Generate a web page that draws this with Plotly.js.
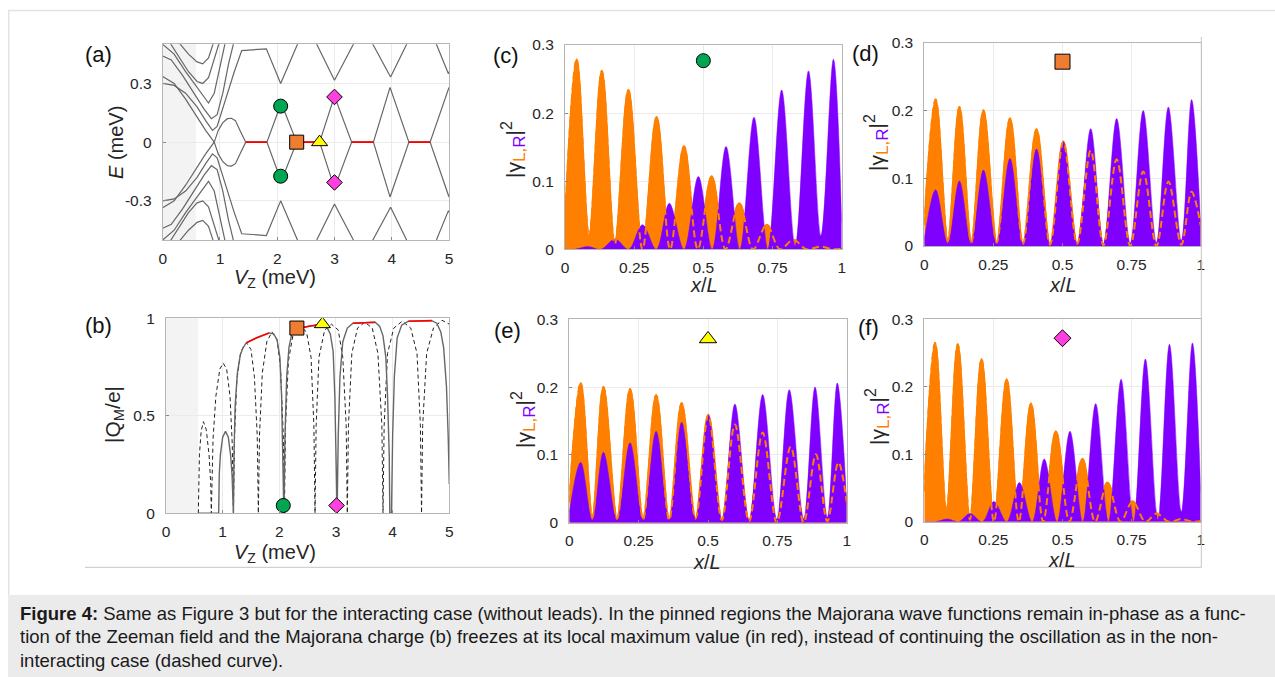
<!DOCTYPE html>
<html><head><meta charset="utf-8">
<script src="https://cdn.plot.ly/plotly-3.0.1.min.js"></script>
<style>html,body{margin:0;padding:0;background:#fff;}#chart{width:1275px;height:677px;}</style>
</head><body><div id="chart"></div>
<script>
// ================= DATA =================
// Panel (a): energy spectrum E (meV) vs V_Z (meV); each curve is a list of [V_Z, E] points
const aMajUp = [[0.9,0],[0.97,0.06],[1.05,0.1],[1.13,0.12],[1.2,0.122],[1.27,0.11],[1.35,0.06],[1.45,0],[1.82,0],[2.07,0.2],[2.34,0],[2.74,0],[3.0,0.235],[3.3,0],[3.68,0],[3.97,0.28],[4.3,0],[4.67,0],[5.0,0.28]];
const aMajLo = [[0.9,0],[0.97,-0.06],[1.05,-0.1],[1.13,-0.12],[1.2,-0.122],[1.27,-0.11],[1.35,-0.06],[1.45,0],[1.82,0],[2.07,-0.2],[2.34,0],[2.74,0],[3.0,-0.235],[3.3,0],[3.68,0],[3.97,-0.28],[4.3,0],[4.67,0],[5.0,-0.28]];
const aUp1 = [[0,0.335],[0.2,0.3],[0.4,0.22],[0.6,0.13],[0.75,0.06],[0.9,0]];
const aLo1 = [[0,-0.335],[0.2,-0.3],[0.4,-0.22],[0.6,-0.13],[0.75,-0.06],[0.9,0]];
const aUp2 = [[0,0.3],[0.2,0.29],[0.4,0.25],[0.6,0.18],[0.75,0.11],[0.87,0.06],[0.95,0.08],[1.1,0.22],[1.25,0.36],[1.38,0.468],[1.81,0.477],[2.06,0.3],[2.37,0.5],[2.5,0.6],[2.69,0.5],[3.0,0.316],[3.33,0.5],[3.5,0.6],[3.67,0.5],[3.98,0.333],[4.26,0.5],[4.5,0.65],[4.78,0.5],[4.99,0.35],[5.0,0.36]];
const aLo2 = [[0,-0.3],[0.2,-0.29],[0.4,-0.25],[0.6,-0.18],[0.75,-0.11],[0.87,-0.06],[0.95,-0.08],[1.1,-0.22],[1.25,-0.36],[1.38,-0.468],[1.81,-0.477],[2.06,-0.3],[2.37,-0.5],[2.5,-0.6],[2.69,-0.5],[3.0,-0.316],[3.33,-0.5],[3.5,-0.6],[3.67,-0.5],[3.98,-0.333],[4.26,-0.5],[4.5,-0.65],[4.78,-0.5],[4.99,-0.35],[5.0,-0.36]];
const aUp3 = [[0,0.44],[0.15,0.42],[0.35,0.34],[0.55,0.25],[0.72,0.17],[0.85,0.12],[0.95,0.14],[1.05,0.25],[1.15,0.4],[1.25,0.52]];
const aLo3 = [[0,-0.44],[0.15,-0.42],[0.35,-0.34],[0.55,-0.25],[0.72,-0.17],[0.85,-0.12],[0.95,-0.14],[1.05,-0.25],[1.15,-0.4],[1.25,-0.52]];
const aUp4 = [[0,0.5],[0.2,0.45],[0.4,0.36],[0.55,0.3],[0.7,0.24],[0.8,0.2],[0.9,0.25],[1.0,0.38],[1.1,0.52]];
const aLo4 = [[0,-0.5],[0.2,-0.45],[0.4,-0.36],[0.55,-0.3],[0.7,-0.24],[0.8,-0.2],[0.9,-0.25],[1.0,-0.38],[1.1,-0.52]];
const aUp5 = [[0.1,0.52],[0.3,0.43],[0.45,0.36],[0.6,0.31],[0.7,0.3],[0.8,0.33],[0.9,0.42],[1.0,0.52]];
const aLo5 = [[0.1,-0.52],[0.3,-0.43],[0.45,-0.36],[0.6,-0.31],[0.7,-0.3],[0.8,-0.33],[0.9,-0.42],[1.0,-0.52]];
const aUp6 = [[0.25,0.52],[0.45,0.45],[0.6,0.41],[0.7,0.4],[0.8,0.43],[0.9,0.52]];
const aLo6 = [[0.25,-0.52],[0.45,-0.45],[0.6,-0.41],[0.7,-0.4],[0.8,-0.43],[0.9,-0.52]];
const aRedSegs = [[1.45,1.82],[2.34,2.74],[3.3,3.68],[4.3,4.67]];
const aCircle = [[2.06,0.184],[2.06,-0.174]];
const aSquare = [[2.34,0]];
const aTriangle = [[2.74,0]];
const aDiamond = [[3.0,0.231],[3.0,-0.206]];
const aShade = [0, 0.58];

// Panel (b): |Q_M/e| vs V_Z
const bSolid = [[0.57,0],[0.93,0],[0.94,0.2],[0.96,0.3],[1.0,0.39],[1.05,0.42],[1.1,0.39],[1.14,0.3],[1.165,0.2],[1.18,0],[1.19,0],[1.2,0.3],[1.22,0.55],[1.26,0.72],[1.31,0.81],[1.36,0.85],[1.42,0.875],[1.6,0.9],[1.82,0.925],[1.9,0.92],[1.96,0.89],[2.01,0.8],[2.04,0.6],[2.06,0.3],[2.07,0],[2.08,0],[2.1,0.4],[2.13,0.7],[2.17,0.85],[2.22,0.92],[2.3,0.945],[2.5,0.958],[2.76,0.97],[2.84,0.955],[2.9,0.92],[2.95,0.83],[2.98,0.6],[3.0,0.3],[3.01,0],[3.02,0],[3.04,0.4],[3.07,0.7],[3.12,0.88],[3.2,0.95],[3.3,0.975],[3.5,0.978],[3.69,0.98],[3.77,0.96],[3.83,0.91],[3.88,0.8],[3.91,0.6],[3.94,0.3],[3.95,0],[3.98,0],[4.0,0.4],[4.03,0.7],[4.08,0.9],[4.16,0.965],[4.28,0.985],[4.5,0.987],[4.69,0.988],[4.78,0.975],[4.85,0.93],[4.9,0.85],[4.95,0.65],[4.98,0.4],[5.0,0.15]];
const bRed1 = [[1.42,0.875],[1.6,0.9],[1.82,0.925]];
const bRed2 = [[2.3,0.945],[2.5,0.958],[2.76,0.97]];
const bRed3 = [[3.3,0.975],[3.5,0.978],[3.69,0.98]];
const bRed4 = [[4.28,0.985],[4.5,0.987],[4.69,0.988]];
const bDashed = [[0.57,0],[0.59,0.3],[0.62,0.42],[0.66,0.47],[0.71,0.43],[0.76,0.3],[0.79,0.15],[0.8,0],
 [0.83,0.38],[0.88,0.6],[0.95,0.74],[1.01,0.77],[1.07,0.74],[1.13,0.6],[1.17,0.35],[1.19,0],
 [1.21,0.4],[1.25,0.68],[1.32,0.83],[1.42,0.875],[1.5,0.84],[1.56,0.7],[1.61,0.4],[1.63,0],
 [1.65,0.4],[1.7,0.72],[1.78,0.88],[1.87,0.93],[1.96,0.89],[2.02,0.75],[2.07,0.4],[2.09,0],
 [2.11,0.45],[2.16,0.78],[2.25,0.93],[2.37,0.96],[2.48,0.93],[2.56,0.8],[2.61,0.45],[2.63,0],
 [2.65,0.45],[2.7,0.8],[2.8,0.94],[2.92,0.97],[3.04,0.94],[3.12,0.8],[3.18,0.45],[3.2,0],
 [3.22,0.45],[3.28,0.82],[3.38,0.95],[3.51,0.98],[3.64,0.95],[3.74,0.82],[3.81,0.45],[3.83,0],
 [3.85,0.45],[3.91,0.82],[4.02,0.95],[4.17,0.985],[4.32,0.95],[4.43,0.82],[4.49,0.45],[4.51,0],
 [4.53,0.45],[4.6,0.82],[4.72,0.95],[4.87,0.99],[5.0,0.97]];
const bCircle = [[2.07,0.04]];
const bSquare = [[2.31,0.95]];
const bTriangle = [[2.76,0.97]];
const bDiamond = [[3.01,0.04]];
const bShade = [0, 0.57];

// Panels (c)-(f): |gamma_L|^2 (orange) and |gamma_R|^2 (purple) vs x/L
const cL = [[0,0.04],[0.042,0.279],[0.087,0.019],[0.133,0.262],[0.18,0.008],[0.229,0.234],[0.28,0],[0.331,0.194],[0.38,0],[0.43,0.151],[0.48,0],[0.53,0.107],[0.58,0],[0.63,0.0675],[0.68,0],[0.729,0.036],[0.777,0],[0.825,0.014],[0.873,0],[0.922,0.004],[0.97,0],[1.0,0.001]];
const cR = [[0,0],[0.035,0],[0.084,0.004],[0.13,0],[0.181,0.015],[0.23,0],[0.28,0.036],[0.33,0],[0.377,0.0675],[0.43,0],[0.482,0.107],[0.532,0],[0.582,0.151],[0.632,0],[0.683,0.194],[0.733,0],[0.783,0.234],[0.832,0.005],[0.88,0.262],[0.925,0.02],[0.97,0.279],[1.0,0.04]];
const dL = [[0,0.031],[0.041,0.216],[0.085,0.008],[0.127,0.205],[0.17,0.005],[0.214,0.2],[0.262,0.005],[0.31,0.188],[0.357,0.003],[0.406,0.172],[0.455,0.002],[0.503,0.154],[0.553,0.003],[0.602,0.141],[0.648,0.001],[0.696,0.128],[0.745,0],[0.792,0.11],[0.84,0],[0.883,0.095],[0.93,0.002],[0.967,0.08],[1.0,0.03]];
const dR = [[0,0.01],[0.041,0.083],[0.085,0.004],[0.127,0.096],[0.17,0.004],[0.214,0.112],[0.262,0.004],[0.31,0.129],[0.357,0.003],[0.406,0.143],[0.455,0.002],[0.503,0.154],[0.553,0.003],[0.602,0.173],[0.648,0.003],[0.696,0.188],[0.745,0.004],[0.792,0.2],[0.84,0.005],[0.883,0.205],[0.93,0.008],[0.967,0.216],[1.0,0.03]];
const eL = [[0,0.03],[0.041,0.206],[0.083,0.008],[0.123,0.2],[0.172,0.006],[0.219,0.197],[0.266,0.005],[0.313,0.188],[0.36,0.004],[0.405,0.176],[0.455,0.006],[0.501,0.159],[0.55,0.004],[0.597,0.145],[0.648,0.002],[0.697,0.133],[0.748,0],[0.798,0.112],[0.845,0],[0.889,0.101],[0.93,0.002],[0.97,0.089],[1.0,0.03]];
const eR = [[0,0.015],[0.041,0.089],[0.083,0.004],[0.123,0.104],[0.172,0.004],[0.219,0.118],[0.266,0.004],[0.313,0.135],[0.36,0.004],[0.405,0.148],[0.455,0.005],[0.501,0.159],[0.55,0.004],[0.597,0.175],[0.648,0.004],[0.697,0.189],[0.748,0.005],[0.793,0.196],[0.845,0.006],[0.886,0.2],[0.93,0.008],[0.966,0.206],[1.0,0.03]];
const fL = [[0,0.045],[0.039,0.265],[0.08,0.015],[0.121,0.263],[0.165,0.003],[0.207,0.241],[0.252,0],[0.298,0.211],[0.342,0],[0.386,0.175],[0.43,0],[0.476,0.134],[0.525,0],[0.572,0.093],[0.618,0],[0.663,0.058],[0.71,0],[0.754,0.03],[0.8,0],[0.84,0.012],[0.885,0],[0.93,0.004],[0.97,0],[1.0,0.001]];
const fR = [[0,0],[0.04,0],[0.085,0.004],[0.125,0],[0.165,0.012],[0.21,0],[0.252,0.03],[0.298,0],[0.344,0.058],[0.39,0],[0.434,0.093],[0.48,0],[0.527,0.134],[0.573,0],[0.62,0.175],[0.666,0],[0.712,0.211],[0.757,0],[0.8,0.241],[0.845,0.003],[0.887,0.263],[0.93,0.015],[0.97,0.265],[1.0,0.045]];
const wfMarker = [[0.5,0.277],[0.5,0.272],[0.5,0.271],[0.5,0.272]];

const xTicksA = [0,1,2,3,4,5];
const yTicksA = [-0.3,0,0.3];
const yTicksB = [0,0.5,1];
const xTicksW = [0,0.25,0.5,0.75,1];
const xTickTextW = ['0','0.25','0.5','0.75','1'];
const yTicksW = [0,0.1,0.2,0.3];

const caption = [
 '<b>Figure 4:</b> Same as Figure 3 but for the interacting case (without leads). In the pinned regions the Majorana wave functions remain in-phase as a func-',
 'tion of the Zeeman field and the Majorana charge (b) freezes at its local maximum value (in red), instead of continuing the oscillation as in the non-',
 'interacting case (dashed curve).'
];

// ================= STYLE / BUILD =================
const W = 1275, H = 677;
const px = x => x / W, py = y => 1 - y / H;
const FONT = 'Liberation Sans, Arial, Helvetica, sans-serif';
const GRAY = '#666666', ORANGE = '#ff8000', PURPLE = '#8000ff';
const COLS = {circle:'#00a651', square:'#ee7d31', triangle:'#ffff00', diamond:'#ff3fe0'};

const traces = [];
const xs = a => a.map(p => p[0]), ys = a => a.map(p => p[1]);
function line(a, xa, ya, color, width, dash) {
  traces.push({type:'scatter', mode:'lines', x:xs(a), y:ys(a), xaxis:xa, yaxis:ya,
    line:{color:color, width:width, dash:dash||'solid'}, hoverinfo:'skip', showlegend:false});
}
function marks(a, xa, ya, sym, color, size) {
  traces.push({type:'scatter', mode:'markers', x:xs(a), y:ys(a), xaxis:xa, yaxis:ya,
    marker:{symbol:sym, color:color, size:size, line:{color:'#000', width:1}}, hoverinfo:'skip', showlegend:false});
}
function fillWF(a, xa, ya, color, lw) {
  traces.push({type:'scatter', mode:'lines', x:xs(a), y:ys(a), xaxis:xa, yaxis:ya, fill:'tozeroy',
    fillcolor:color, line:{color:color, width:lw, shape:'spline', smoothing:1}, hoverinfo:'skip', showlegend:false});
}

// (a)
[aUp1,aLo1,aUp2,aLo2,aUp3,aLo3,aUp4,aLo4,aUp5,aLo5,aUp6,aLo6,aMajUp,aMajLo].forEach(c => line(c,'x','y',GRAY,1.2));
aRedSegs.forEach(s => line([[s[0],0],[s[1],0]],'x','y','#ff0000',1.8));
marks(aCircle,'x','y','circle',COLS.circle,14);
marks(aSquare,'x','y','square',COLS.square,14);
marks(aTriangle,'x','y','triangle-up',COLS.triangle,14);
marks(aDiamond,'x','y','diamond',COLS.diamond,12);
// (b)
line(bDashed,'x2','y2','#222',1,'4px,3px');
line(bSolid,'x2','y2',GRAY,1.4);
[bRed1,bRed2,bRed3,bRed4].forEach(c => line(c,'x2','y2','#ff0000',1.6));
marks(bCircle,'x2','y2','circle',COLS.circle,14);
marks(bSquare,'x2','y2','square',COLS.square,14);
marks(bTriangle,'x2','y2','triangle-up',COLS.triangle,14);
marks(bDiamond,'x2','y2','diamond',COLS.diamond,12);
// (c)-(f)
const wf = [[cL,cR,'x3','y3','circle',COLS.circle,14],[dL,dR,'x4','y4','square',COLS.square,15],
            [eL,eR,'x5','y5','triangle-up',COLS.triangle,15],[fL,fR,'x6','y6','diamond',COLS.diamond,13]];
wf.forEach((p,i) => {
  fillWF(p[0],p[2],p[3],ORANGE,2.2);
  fillWF(p[1],p[2],p[3],PURPLE,0.5);
  traces.push({type:'scatter', mode:'lines', x:xs(p[0]), y:ys(p[0]), xaxis:p[2], yaxis:p[3],
    line:{color:ORANGE, width:2, dash:'7px,4px', shape:'spline', smoothing:1}, hoverinfo:'skip', showlegend:false});
  marks([wfMarker[i]],p[2],p[3],p[4],p[5],p[6]);
});

const tickFont = {family:FONT, size:15.5, color:'#262626'};
function ax(domain, range, tickvals, ticktext, anchor, isY) {
  const o = {domain:domain, range:range, tickvals:tickvals, showgrid:true, gridcolor:'#ebebeb', gridwidth:1,
    zeroline:false, showline:true, linecolor:'#b5b5b5', linewidth:1, mirror:true,
    ticks:'inside', ticklen:3, tickcolor:'#888', tickfont:tickFont, anchor:anchor, fixedrange:true,
    ticklabelstandoff: isY ? 7 : 4};
  if (ticktext) o.ticktext = ticktext;
  return o;
}
const yt = ['0','0.1','0.2','0.3'];
const layout = {
  width:W, height:H, margin:{l:0,r:0,t:0,b:0}, paper_bgcolor:'#fff', plot_bgcolor:'rgba(0,0,0,0)',
  showlegend:false, font:{family:FONT},
  xaxis:  ax([px(162.7),px(449)], [0,5], xTicksA, null, 'y'),
  yaxis:  ax([py(240),py(44.3)], [-0.5,0.5], yTicksA, ['-0.3','0','0.3'], 'x', true),
  xaxis2: ax([px(166),px(449.3)], [0,5], xTicksA, null, 'y2'),
  yaxis2: ax([py(513.3),py(318.3)], [0,1], yTicksB, ['0','0.5','1'], 'x2', true),
  xaxis3: ax([px(565),px(841.7)], [0,1], xTicksW, xTickTextW, 'y3'),
  yaxis3: ax([py(249.3),py(45)], [0,0.3], yTicksW, yt, 'x3', true),
  xaxis4: ax([px(924.3),px(1200.7)], [0,1], xTicksW, xTickTextW, 'y4'),
  yaxis4: ax([py(246),py(42.7)], [0,0.3], yTicksW, yt, 'x4', true),
  xaxis5: ax([px(569.3),px(846.7)], [0,1], xTicksW, xTickTextW, 'y5'),
  yaxis5: ax([py(522.7),py(319.3)], [0,0.3], yTicksW, yt, 'x5', true),
  xaxis6: ax([px(924.3),px(1200.7)], [0,1], xTicksW, xTickTextW, 'y6'),
  yaxis6: ax([py(521.7),py(319.3)], [0,0.3], yTicksW, yt, 'x6', true),
  shapes: [
    {type:'rect', xref:'x', yref:'y domain', x0:aShade[0], x1:aShade[1], y0:0, y1:1, fillcolor:'#f3f3f3', line:{width:0}, layer:'below'},
    {type:'rect', xref:'x2', yref:'y2 domain', x0:bShade[0], x1:bShade[1], y0:0, y1:1, fillcolor:'#f3f3f3', line:{width:0}, layer:'below'},
    {type:'line', xref:'paper', yref:'paper', x0:px(8), x1:1, y0:py(10.5), y1:py(10.5), line:{color:'#e2e2e2', width:1.5}},
    {type:'line', xref:'paper', yref:'paper', x0:px(8.7), x1:px(8.7), y0:py(10), y1:py(595), line:{color:'#e2e2e2', width:1.5}},
    {type:'rect', xref:'paper', yref:'paper', x0:px(8), x1:1, y0:0, y1:py(595), fillcolor:'#ebebeb', line:{width:0}, layer:'below'},
    {type:'line', xref:'paper', yref:'paper', x0:px(85), x1:px(1201.5), y0:py(567.3), y1:py(567.3), line:{color:'#c6c6c6', width:1}},
    {type:'line', xref:'paper', yref:'paper', x0:px(1201.3), x1:px(1201.3), y0:py(37), y1:py(567.3), line:{color:'#c6c6c6', width:1}}
  ],
  annotations: []
};
function ann(text, x, y, size, opts) {
  layout.annotations.push(Object.assign({text:text, xref:'paper', yref:'paper', x:px(x), y:py(y), showarrow:false,
    xanchor:'center', yanchor:'middle', font:{family:FONT, size:size, color:'#262626'}}, opts||{}));
}
const gam = '|γ<sub><span style="color:'+ORANGE+';font-size:17px">L,</span><span style="color:'+PURPLE+';font-size:17px">R</span></sub>|<sup><span style="font-size:16px">2</span></sup>';
const vz = '<i>V</i><sub>Z</sub> (meV)';
const lab = {family:FONT,size:22,color:'#111'};
ann('(a)',98,54,22,{font:lab});
ann('(b)',98,325,22,{font:lab});
ann('(c)',506,55,22,{font:lab});
ann('(d)',865,53,22,{font:lab});
ann('(e)',507,330,22,{font:lab});
ann('(f)',868,327,22,{font:lab});
ann(vz,275,278,20);
ann('<i>E</i> (meV)',116,142,20,{textangle:-90});
ann(vz,275,553,20);
ann('|Q<sub>M</sub>/e|',114,415,21,{textangle:-90});
ann(gam,514,150,21,{textangle:-90});
ann(gam,876,143,21,{textangle:-90});
ann(gam,523,420,21,{textangle:-90});
ann(gam,877,417,21,{textangle:-90});
ann('<i>x</i>/<i>L</i>',704,285,20);
ann('<i>x</i>/<i>L</i>',1063,285,20);
ann('<i>x</i>/<i>L</i>',707,562,20);
ann('<i>x</i>/<i>L</i>',1062,560,20);
caption.forEach((t,i) => ann(t,18,613+i*23.5,18.5,{xanchor:'left', font:{family:FONT,size:18.5,color:'#1a1a1a'}}));

Plotly.newPlot('chart', traces, layout, {staticPlot:true, displayModeBar:false});
</script></body></html>
